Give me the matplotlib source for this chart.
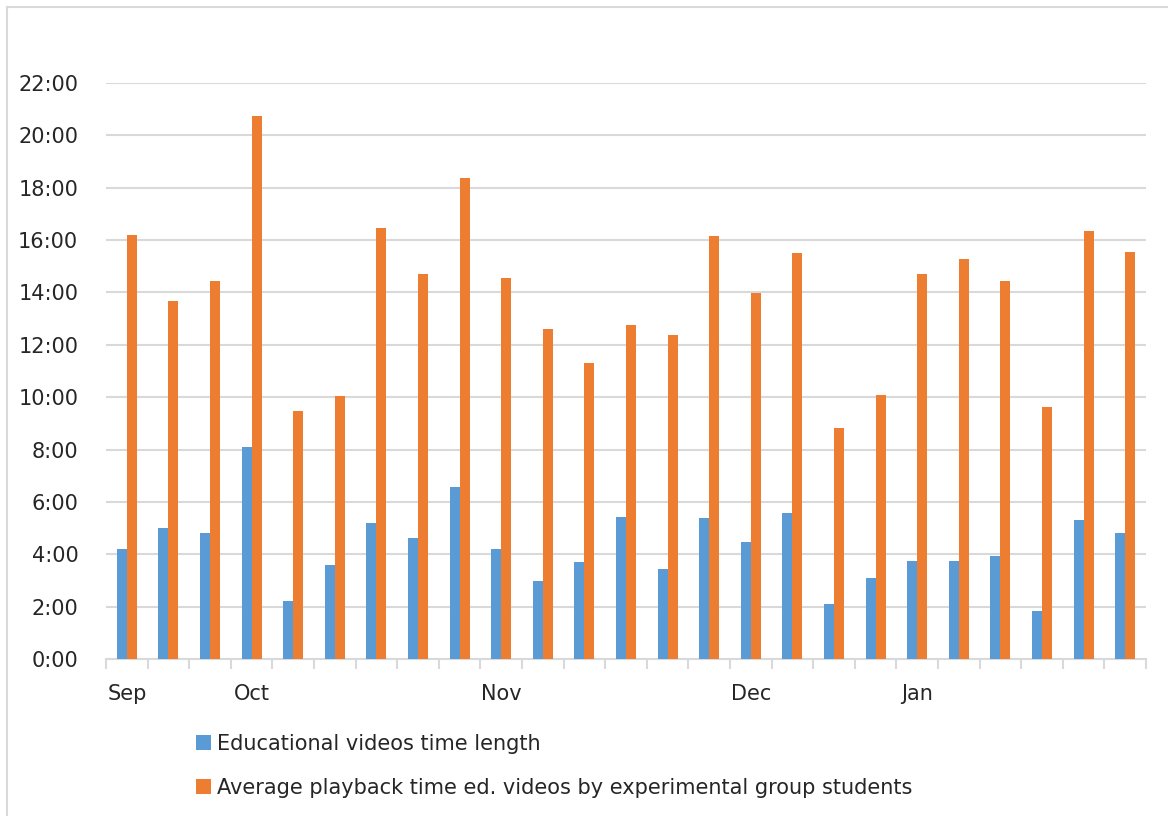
import numpy as np
import matplotlib.pyplot as plt
from matplotlib.ticker import FuncFormatter, FixedLocator

plt.rcParams['font.family'] = ['DejaVu Sans']

# Data (minutes)
video_length = [4.20, 5.00, 4.81, 8.10, 2.22, 3.59, 5.19, 4.62, 6.57, 4.20,
                2.98, 3.70, 5.42, 3.44, 5.39, 4.47, 5.58, 2.10, 3.09, 3.74,
                3.74, 3.93, 1.83, 5.31, 4.81]
playback = [16.20, 13.67, 14.44, 20.74, 9.47, 10.05, 16.46, 14.70, 18.37, 14.55,
            12.60, 11.31, 12.76, 12.38, 16.16, 13.98, 15.51, 8.82, 10.08, 14.70,
            15.28, 14.44, 9.63, 16.35, 15.55]
month_pos = [0, 3, 9, 15, 19]
month_labels = ['Sep', 'Oct', 'Nov', 'Dec', 'Jan']
series_names = ['Educational videos time length',
                'Average playback time ed. videos by experimental group students']

Color_blue = '#5B9BD5'
Color_orange = '#ED7D31'
Color_grid = '#D9D9D9'

fig = plt.figure(figsize=(11.68, 8.16), dpi=100)
ax = fig.add_axes([0.0908, 0.1924, 0.8904, 0.7059])

x = np.arange(len(video_length))
w = 0.24
ax.bar(x - w/2, video_length, w, color=Color_blue, label=series_names[0], zorder=3)
ax.bar(x + w/2, playback, w, color=Color_orange, label=series_names[1], zorder=3)

ax.set_xlim(-0.5, len(x) - 0.5)
ax.set_ylim(0, 22)
ax.set_yticks(np.arange(0, 23, 2))
ax.yaxis.set_major_formatter(FuncFormatter(lambda v, p: f'{int(v)}:{int(round((v % 1) * 60)):02d}'))
ax.grid(axis='y', color=Color_grid, linewidth=1.5, zorder=0)

# boundary ticks between groups, month labels at group centres
ax.xaxis.set_major_locator(FixedLocator(np.arange(-0.5, len(x), 1.0)))
ax.xaxis.set_major_formatter(FuncFormatter(lambda v, p: ''))
ax.set_xticks(month_pos, minor=True)
ax.set_xticklabels(month_labels, minor=True)
ax.tick_params(axis='x', which='major', length=7, width=1.5, color=Color_grid)
ax.tick_params(axis='x', which='minor', length=0, pad=18, labelsize=15, colors='#262626')
ax.tick_params(axis='y', length=0, pad=20, labelsize=15, colors='#262626')

for s in ['top', 'right', 'left']:
    ax.spines[s].set_visible(False)
ax.spines['bottom'].set_color(Color_grid)
ax.spines['bottom'].set_linewidth(1.5)

leg = fig.legend(loc='upper left', bbox_to_anchor=(0.152, 0.124), frameon=False,
                 fontsize=15, handlelength=0.7, handleheight=0.7, handletextpad=0.3,
                 labelspacing=1.15, labelcolor='#262626')

# chart border
fig.add_artist(plt.Line2D([0.006, 0.006], [0, 0.992], color=Color_grid, lw=1.5))
fig.add_artist(plt.Line2D([0.006, 1], [0.992, 0.992], color=Color_grid, lw=1.5))

fig.savefig('out.png', dpi=100)
